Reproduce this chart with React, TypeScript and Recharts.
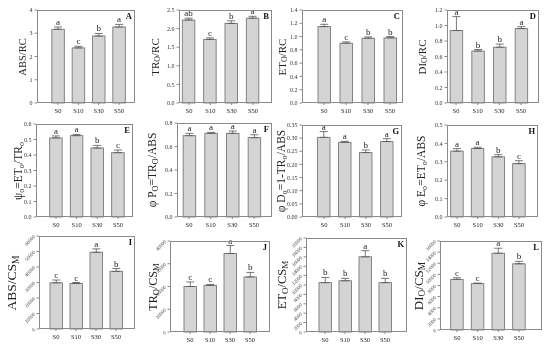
import type { ReactNode } from "react";
import { Bar, BarChart, ErrorBar, XAxis, YAxis } from "recharts";

const groups = ["S0", "S10", "S30", "S50"];

// A: ABS/RC
const absRc = [3.17, 2.37, 2.88, 3.27];
const absRcErr = [0.1, 0.07, 0.11, 0.11];
const absRcSig = ["a", "c", "b", "a"];
const absRcTicks = [0, 1, 2, 3, 4];

// B: TRo/RC
const trRc = [2.23, 1.71, 2.14, 2.28];
const trRcErr = [0.05, 0.04, 0.07, 0.05];
const trRcSig = ["ab", "c", "b", "a"];
const trRcTicks = [0, 0.5, 1, 1.5, 2, 2.5];

// C: ETo/RC
const etRc = [1.15, 0.9, 0.975, 0.98];
const etRcErr = [0.035, 0.02, 0.02, 0.02];
const etRcSig = ["a", "c", "b", "b"];
const etRcTicks = [0, 0.2, 0.4, 0.6, 0.8, 1, 1.2, 1.4];

// D: DIo/RC
const diRc = [0.935, 0.67, 0.72, 0.96];
const diRcErr = [0.18, 0.02, 0.04, 0.025];
const diRcSig = ["a", "b", "b", "a"];
const diRcTicks = [0, 0.2, 0.4, 0.6, 0.8, 1, 1.2];

// E: psi Eo
const psiEo = [0.51, 0.525, 0.445, 0.415];
const psiEoErr = [0.013, 0.008, 0.017, 0.017];
const psiEoSig = ["a", "a", "b", "c"];
const psiEoTicks = [0, 0.1, 0.2, 0.3, 0.4, 0.5, 0.6];

// F: phi Po
const phiPo = [0.692, 0.712, 0.712, 0.675];
const phiPoErr = [0.02, 0.008, 0.02, 0.025];
const phiPoSig = ["a", "a", "a", "a"];
const phiPoTicks = [0, 0.2, 0.4, 0.6, 0.8];

// G: phi Do
const phiDo = [0.303, 0.284, 0.245, 0.287];
const phiDoErr = [0.022, 0.004, 0.01, 0.011];
const phiDoSig = ["a", "a", "b", "a"];
const phiDoTicks = [0, 0.05, 0.1, 0.15, 0.2, 0.25, 0.3, 0.35];

// H: phi Eo
const phiEo = [0.358, 0.372, 0.327, 0.29];
const phiEoErr = [0.014, 0.007, 0.012, 0.016];
const phiEoSig = ["a", "a", "b", "c"];
const phiEoTicks = [0, 0.1, 0.2, 0.3, 0.4, 0.5];

// I: ABS/CSm
const absCs = [29800, 29400, 49500, 37200];
const absCsErr = [1800, 600, 2200, 1800];
const absCsSig = ["c", "c", "a", "b"];
const absCsTicks = [0, 10000, 20000, 30000, 40000, 50000, 60000];

// J: TRo/CSm
const trCs = [20000, 20500, 34500, 24200];
const trCsErr = [2000, 400, 3500, 2000];
const trCsSig = ["c", "c", "a", "b"];
const trCsTicks = [0, 10000, 20000, 30000, 40000];

// K: ETo/CSm
const etCs = [10500, 10900, 16000, 10500];
const etCsErr = [1100, 500, 1300, 900];
const etCsSig = ["b", "b", "a", "b"];
const etCsTicks = [0, 2000, 4000, 6000, 8000, 10000, 12000, 14000, 16000, 18000, 20000];

// L: DIo/CSm
const diCs = [9100, 8350, 13800, 11900];
const diCsErr = [300, 80, 900, 450];
const diCsSig = ["c", "c", "a", "b"];
const diCsTicks = [0, 2000, 4000, 6000, 8000, 10000, 12000, 14000, 16000];

const serif = "'Liberation Serif', 'Times New Roman', serif";
const ink = "#222";
const frameColor = "#8a8a8a";

type Layout = { x: number; y: number; w: number; h: number; c0: number; c3: number; lx: number; ls: number };

interface PanelProps {
  tag: string;
  values: number[];
  errs: number[];
  sig: string[];
  ticks: number[];
  digits: number;
  rotated?: boolean;
  label: ReactNode;
  layout: Layout;
}

function BarShape(props: any) {
  const { x, y, width, height, payload } = props;
  const ePx = payload.value ? (payload.e / payload.value) * height : 0;
  return (
    <g>
      <rect x={x} y={y} width={width} height={height} fill="#d4d4d4" stroke="#7a7a7a" strokeWidth={0.9} />
      <text x={x + width / 2} y={y - ePx - 2} textAnchor="middle" fontSize={9} fontFamily={serif} fill={ink}>
        {payload.sig}
      </text>
    </g>
  );
}

function RotTick(props: any) {
  const { x, y, payload } = props;
  return (
    <g transform={`translate(${x},${y})`}>
      <text x={0} y={0} dy={1.5} textAnchor="end" transform="rotate(-45)" fontSize={5} fontFamily={serif} fill="#444">
        {payload.value}
      </text>
    </g>
  );
}

function Panel({ tag, values, errs, sig, ticks, digits, rotated, label, layout }: PanelProps) {
  const data = groups.map((g, i) => ({ name: g, value: values[i], e: errs[i], err: [0, errs[i]], sig: sig[i] }));
  const bw = (layout.w - layout.c0 - layout.c3) / 3;
  const padL = layout.c0 - bw / 2;
  const padR = layout.c3 - bw / 2;
  const yw = 34;
  const mt = 4;
  const mr = 4;
  const xh = 16;

  return (
    <>
      <div style={{ position: "absolute", left: layout.x - yw, top: layout.y - mt, willChange: "transform" }}>
        <BarChart
          width={layout.w + yw + mr}
          height={layout.h + mt + xh}
          data={data}
          margin={{ top: mt, right: mr, left: 0, bottom: 0 }}
          barSize={12.5}
        >
          <XAxis
            dataKey="name"
            height={xh}
            padding={{ left: padL, right: padR }}
            axisLine={false}
            tickLine={{ stroke: frameColor }}
            tickSize={2}
            tickMargin={3}
            interval={0}
            tick={{ fontSize: 6.5, fill: ink, fontFamily: serif }}
          />
          <YAxis
            width={yw}
            domain={[0, ticks[ticks.length - 1]]}
            ticks={ticks}
            interval={0}
            axisLine={false}
            tickLine={{ stroke: frameColor }}
            tickSize={2.5}
            tickMargin={2}
            tickFormatter={(v: number) => v.toFixed(digits)}
            tick={rotated ? <RotTick /> : { fontSize: 6, fill: "#333", fontFamily: serif }}
          />
          <Bar dataKey="value" isAnimationActive={false} shape={<BarShape />}>
            <ErrorBar dataKey="err" width={4} stroke="#555" strokeWidth={0.8} direction="y" />
          </Bar>
        </BarChart>
      </div>
      <div
        style={{
          position: "absolute",
          left: layout.x,
          top: layout.y,
          width: layout.w,
          height: layout.h,
          border: `1px solid ${frameColor}`,
          boxSizing: "border-box",
          pointerEvents: "none",
        }}
      />
      <div
        style={{
          position: "absolute",
          left: layout.x + layout.w - 3,
          top: layout.y + 2,
          transform: "translateX(-100%)",
          fontFamily: serif,
          fontWeight: "bold",
          fontSize: 8.5,
          lineHeight: 1,
          color: "#111",
        }}
      >
        {tag}
      </div>
      <div
        style={{
          position: "absolute",
          left: layout.lx,
          top: layout.y + layout.h / 2,
          transform: "translate(-50%, -50%) rotate(-90deg)",
          whiteSpace: "nowrap",
          fontFamily: serif,
          fontSize: layout.ls,
          lineHeight: 1,
          color: ink,
        }}
      >
        {label}
      </div>
    </>
  );
}

const sub = (t: string) => <sub style={{ fontSize: "0.72em", verticalAlign: "-0.25em", lineHeight: 0 }}>{t}</sub>;

export default function App() {
  return (
    <div style={{ position: "fixed", left: 0, top: 0, width: 550, height: 350, background: "#fff", overflow: "hidden" }}>
      <Panel tag="A" values={absRc} errs={absRcErr} sig={absRcSig} ticks={absRcTicks} digits={0}
        label={<>ABS/RC</>} layout={{ x: 37, y: 10, w: 98, h: 93, c0: 21, c3: 16, lx: 23, ls: 10.5 }} />
      <Panel tag="B" values={trRc} errs={trRcErr} sig={trRcSig} ticks={trRcTicks} digits={1}
        label={<>TR{sub("O")}/RC</>} layout={{ x: 179, y: 10, w: 93, h: 93, c0: 10, c3: 19, lx: 155, ls: 11 }} />
      <Panel tag="C" values={etRc} errs={etRcErr} sig={etRcSig} ticks={etRcTicks} digits={1}
        label={<>ET{sub("O")}/RC</>} layout={{ x: 302, y: 10, w: 101, h: 93, c0: 22, c3: 13, lx: 282, ls: 11 }} />
      <Panel tag="D" values={diRc} errs={diRcErr} sig={diRcSig} ticks={diRcTicks} digits={1}
        label={<>DI{sub("O")}/RC</>} layout={{ x: 447, y: 10, w: 92, h: 93, c0: 9, c3: 18, lx: 422, ls: 11 }} />

      <Panel tag="E" values={psiEo} errs={psiEoErr} sig={psiEoSig} ticks={psiEoTicks} digits={1}
        label={<>ψ{sub("o")}=ET{sub("o")}/TR{sub("o")}</>} layout={{ x: 36, y: 124, w: 97, h: 93, c0: 20, c3: 15, lx: 19, ls: 11.5 }} />
      <Panel tag="F" values={phiPo} errs={phiPoErr} sig={phiPoSig} ticks={phiPoTicks} digits={1}
        label={<>φ P{sub("O")}=TR{sub("O")}/ABS</>} layout={{ x: 177, y: 123, w: 95, h: 94, c0: 12, c3: 18, lx: 153, ls: 11.5 }} />
      <Panel tag="G" values={phiDo} errs={phiDoErr} sig={phiDoSig} ticks={phiDoTicks} digits={2}
        label={<>φ D{sub("o")}=1-TR{sub("o")}/ABS</>} layout={{ x: 302, y: 125, w: 100, h: 92, c0: 22, c3: 15, lx: 282, ls: 11.5 }} />
      <Panel tag="H" values={phiEo} errs={phiEoErr} sig={phiEoSig} ticks={phiEoTicks} digits={1}
        label={<>φ E{sub("o")}=ET{sub("o")}/ABS</>} layout={{ x: 447, y: 125, w: 91, h: 92, c0: 10, c3: 19, lx: 422, ls: 11.5 }} />

      <Panel tag="I" values={absCs} errs={absCsErr} sig={absCsSig} ticks={absCsTicks} digits={0} rotated
        label={<>ABS/CS{sub("M")}</>} layout={{ x: 39, y: 236, w: 96, h: 93, c0: 17, c3: 19, lx: 12, ls: 13.5 }} />
      <Panel tag="J" values={trCs} errs={trCsErr} sig={trCsSig} ticks={trCsTicks} digits={0} rotated
        label={<>TR{sub("O")}/CS{sub("M")}</>} layout={{ x: 170, y: 241, w: 100, h: 91, c0: 20, c3: 20, lx: 153, ls: 12 }} />
      <Panel tag="K" values={etCs} errs={etCsErr} sig={etCsSig} ticks={etCsTicks} digits={0} rotated
        label={<>ET{sub("O")}/CS{sub("M")}</>} layout={{ x: 306, y: 238, w: 101, h: 94, c0: 19, c3: 22, lx: 282, ls: 12.5 }} />
      <Panel tag="L" values={diCs} errs={diCsErr} sig={diCsSig} ticks={diCsTicks} digits={0} rotated
        label={<>DI{sub("O")}/CS{sub("M")}</>} layout={{ x: 440, y: 241, w: 102, h: 89, c0: 17, c3: 23, lx: 418, ls: 13 }} />
    </div>
  );
}
